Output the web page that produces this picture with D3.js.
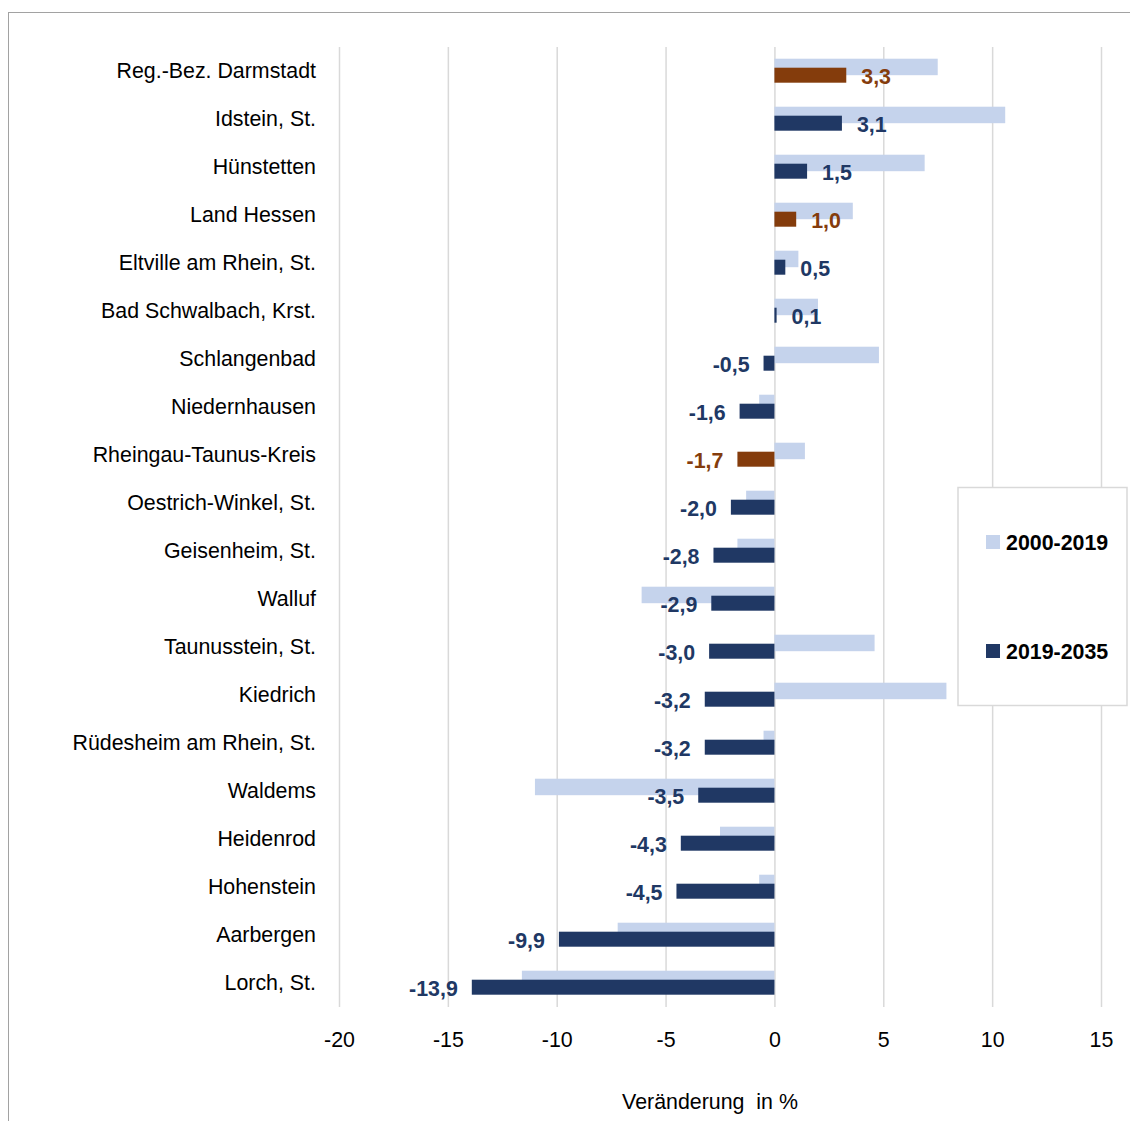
<!DOCTYPE html>
<html>
<head>
<meta charset="utf-8">
<script src="https://cdn.jsdelivr.net/npm/d3@7"></script>
<style>
  html, body { margin: 0; padding: 0; background: #fff; }
  svg { display: block; }
  text { font-family: "Liberation Sans", Arial, sans-serif; }
</style>
</head>
<body>
<svg id="chart" width="1130" height="1121"></svg>
<script>
// Gemeinden, Kreis, Regierungsbezirk und Land
const categories = [
  "Reg.-Bez. Darmstadt", "Idstein, St.", "Hünstetten", "Land Hessen",
  "Eltville am Rhein, St.", "Bad Schwalbach, Krst.", "Schlangenbad",
  "Niedernhausen", "Rheingau-Taunus-Kreis", "Oestrich-Winkel, St.",
  "Geisenheim, St.", "Walluf", "Taunusstein, St.", "Kiedrich",
  "Rüdesheim am Rhein, St.", "Waldems", "Heidenrod", "Hohenstein",
  "Aarbergen", "Lorch, St."
];
// Veränderung 2000-2019 in %
const change2000_2019 = [
  7.5, 10.6, 6.9, 3.6, 1.1, 2.0, 4.8, -0.7, 1.4, -1.3,
  -1.7, -6.1, 4.6, 7.9, -0.5, -11.0, -2.5, -0.7, -7.2, -11.6
];
// Veränderung 2019-2035 in %
const change2019_2035 = [
  3.3, 3.1, 1.5, 1.0, 0.5, 0.1, -0.5, -1.6, -1.7, -2.0,
  -2.8, -2.9, -3.0, -3.2, -3.2, -3.5, -4.3, -4.5, -9.9, -13.9
];
// Übergeordnete Gebietseinheiten werden farblich hervorgehoben
const highlighted = ["Reg.-Bez. Darmstadt", "Land Hessen", "Rheingau-Taunus-Kreis"];
const xTicks = [-20, -15, -10, -5, 0, 5, 10, 15];
const seriesNames = ["2000-2019", "2019-2035"];
const axisTitle = "Veränderung  in %";

const rows = categories.map((c, i) => ({
  name: c, a: change2000_2019[i], b: change2019_2035[i],
  hi: highlighted.includes(c)
}));

const COL_LIGHT = "#c5d3ec";
const COL_DARK = "#203864";
const COL_HI = "#843c0c";
const FS = 23;        // Schriftgröße
const SX = 0.93;      // schmale Laufweite (horizontale Stauchung)

const svg = d3.select("#chart");
const W = 1130, H = 1121;
const margin = { left: 339, right: W - 1101, top: 47, bottom: H - 1007 };
const plotB = H - margin.bottom;

// Schmal gesetzter Text an Position (x, y)
function narrowText(sel, px, py) {
  return sel.attr("x", 0).attr("y", 0)
    .attr("transform", (d, i) => `translate(${px(d, i)},${py(d, i)}) scale(${SX},1)`);
}

// Äußerer gepunkteter Rahmen
svg.append("rect")
  .attr("x", 8.5).attr("y", 12.5)
  .attr("width", W + 20).attr("height", H + 20)
  .attr("fill", "none").attr("stroke", "#444")
  .attr("stroke-width", 1).attr("stroke-dasharray", "1,1");

const x = d3.scaleLinear().domain([-20, 15]).range([margin.left, W - margin.right]);
const y = d3.scaleBand().domain(categories).range([margin.top, plotB]).padding(0);

// Gitterlinien und Achsenbeschriftung
const xAxis = d3.axisBottom(x)
  .tickValues(xTicks)
  .tickSize(-(plotB - margin.top))
  .tickPadding(24)
  .tickFormat(d => d < 0 ? "-" + Math.abs(d) : String(d));
const gx = svg.append("g")
  .attr("transform", `translate(0,${plotB})`)
  .call(xAxis);
gx.select(".domain").remove();
gx.selectAll(".tick line").attr("stroke", "#d9d9d9").attr("stroke-width", 1.5);
gx.selectAll(".tick text")
  .attr("font-size", FS).attr("fill", "#000")
  .attr("transform", `scale(${SX},1)`);

const yAxis = d3.axisLeft(y).tickSize(0).tickPadding(23);
const gy = svg.append("g")
  .attr("transform", `translate(${margin.left},0)`)
  .call(yAxis);
gy.select(".domain").remove();
gy.selectAll(".tick text")
  .attr("font-size", FS).attr("fill", "#000")
  .attr("x", -23 / SX)
  .attr("transform", `scale(${SX},1)`);

const cy = d => y(d.name) + y.bandwidth() / 2;

// Balken 2000-2019
svg.append("g").selectAll("rect")
  .data(rows).join("rect")
  .attr("x", d => x(Math.min(0, d.a)))
  .attr("width", d => Math.abs(x(d.a) - x(0)))
  .attr("y", d => cy(d) - 12.3)
  .attr("height", 16.5)
  .attr("fill", COL_LIGHT);

// Balken 2019-2035
svg.append("g").selectAll("rect")
  .data(rows).join("rect")
  .attr("x", d => x(Math.min(0, d.b)))
  .attr("width", d => Math.abs(x(d.b) - x(0)))
  .attr("y", d => cy(d) - 3.3)
  .attr("height", 15)
  .attr("fill", d => d.hi ? COL_HI : COL_DARK);

// Datenbeschriftung mit Dezimalkomma
const de = d3.formatLocale({ decimal: ",", thousands: ".", grouping: [3], currency: ["", " €"], minus: "-" });
const fmt = de.format(".1f");
svg.append("g").selectAll("text")
  .data(rows).join("text")
  .call(narrowText, d => d.b >= 0 ? x(d.b) + 15 : x(d.b) - 14, d => cy(d) + 5)
  .attr("dy", "0.35em")
  .attr("text-anchor", d => d.b >= 0 ? "start" : "end")
  .attr("font-size", FS).attr("font-weight", "bold")
  .attr("fill", d => d.hi ? COL_HI : COL_DARK)
  .text(d => fmt(d.b));

// Achsentitel
svg.append("text")
  .datum(axisTitle)
  .call(narrowText, () => 710, () => 1109)
  .attr("text-anchor", "middle")
  .attr("font-size", FS).attr("fill", "#000")
  .attr("xml:space", "preserve")
  .style("white-space", "pre")
  .text(d => d);

// Legende
const lg = svg.append("g");
lg.append("rect")
  .attr("x", 958).attr("y", 487.5)
  .attr("width", 169).attr("height", 218)
  .attr("fill", "#fff").attr("stroke", "#d9d9d9").attr("stroke-width", 1.5);
const legendItems = [
  { name: seriesNames[0], color: COL_LIGHT, y: 542 },
  { name: seriesNames[1], color: COL_DARK, y: 651 }
];
const li = lg.selectAll("g").data(legendItems).join("g");
li.append("rect")
  .attr("x", 986).attr("y", d => d.y - 7)
  .attr("width", 14).attr("height", 14)
  .attr("fill", d => d.color);
li.append("text")
  .call(narrowText, () => 1006, d => d.y)
  .attr("dy", "0.35em")
  .attr("font-size", FS).attr("font-weight", "bold").attr("fill", "#000")
  .text(d => d.name);
</script>
</body>
</html>
